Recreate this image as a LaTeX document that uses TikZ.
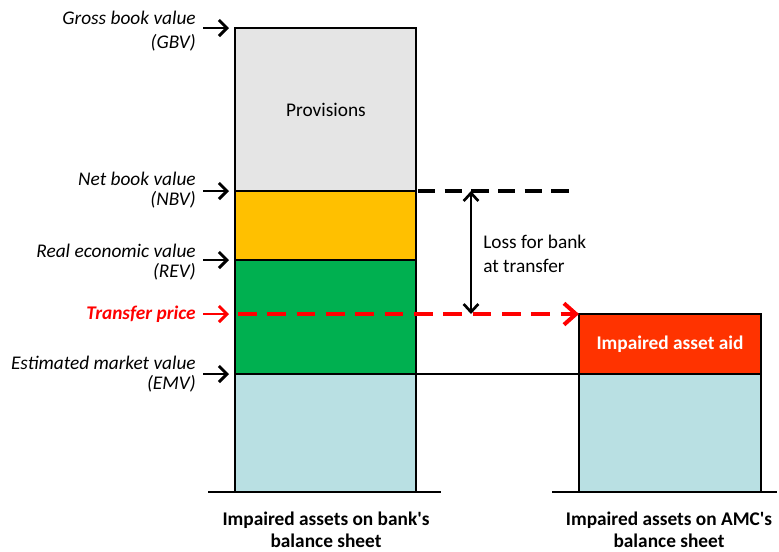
\documentclass[tikz,border=0pt]{standalone}
\usepackage{fontspec}
\setmainfont{Carlito}
\usetikzlibrary{positioning,calc,arrows.meta}
\definecolor{provcolor}{RGB}{229,229,229}
\definecolor{nbvcolor}{RGB}{255,192,0}
\definecolor{revcolor}{RGB}{0,176,80}
\definecolor{emvcolor}{RGB}{185,224,227}
\definecolor{aidcolor}{RGB}{255,51,0}
\definecolor{pricecolor}{RGB}{255,0,0}

\begin{document}
\begin{tikzpicture}[x=0.75pt,y=-0.75pt,
    seg/.style={draw=black,line width=2.2pt},
    ground/.style={draw=black,line width=2pt},
    lbl/.style={font=\fontsize{14.5}{15.5}\selectfont\itshape,align=right,anchor=east,inner sep=0pt},
    tip/.style={-{Straight Barb[length=6pt,width=12pt]},line width=2.2pt},
    sheetcaption/.style={font=\fontsize{14.5}{16.5}\selectfont\bfseries,align=center,inner sep=0pt}]
    \useasboundingbox (0,0) rectangle (779,551);

    % Bank's balance sheet
    \draw[seg,fill=provcolor] (235,28) rectangle (416,191);
    \draw[seg,fill=nbvcolor] (235,191) rectangle (416,260);
    \draw[seg,fill=revcolor] (235,260) rectangle (416,374);
    \draw[seg,fill=emvcolor] (235,374) rectangle (416,492);
    \draw[ground] (208,492) -- (441,492);
    \node[font=\fontsize{14.5}{15}\selectfont] (prov) at (326,110) {Provisions};

    % AMC's balance sheet
    \draw[seg,fill=aidcolor] (579,314) rectangle (761,374);
    \draw[seg,fill=emvcolor] (579,374) rectangle (761,492);
    \draw[ground] (552,492) -- (777,492);
    \node[white,font=\fontsize{14.5}{15}\selectfont\bfseries] (aid) at (670,344) {Impaired asset aid};

    % levels on the bar
    \coordinate (gbv) at (235,28);
    \coordinate (nbv) at (235,191);
    \coordinate (rev) at (235,260);
    \coordinate (tp) at (235,314);
    \coordinate (emv) at (235,374);
    \coordinate (nbvend) at (578,191);
    \coordinate (amc) at (579,314);
    \coordinate (amcemv) at (579,374);
    \coordinate (losstop) at (471,191);

    % value labels
    \foreach \lv/\yy/\txt in {gbv/31/{Gross book value\\[3pt](GBV)}, nbv/190/{Net book value\\(NBV)},
        rev/262/{Real economic value\\(REV)}, emv/374/{Estimated market value\\(EMV)}}{
        \node[lbl] (\lv txt) at (196,\yy) {\txt};
        \draw[tip] ($(\lv)+(-32,0)$) -- ($(\lv)+(-6,0)$);
    }
    \node[lbl,text=pricecolor,font=\fontsize{14.5}{15}\selectfont\bfseries\itshape] (tptxt) at (196,314) {Transfer price};
    \draw[tip,pricecolor] ($(tp)+(-32,0)$) -- ($(tp)+(-6,0)$);

    % transfer and loss
    \draw[line width=1.6pt] ($(emv)+(181,0)$) -- (amcemv);
    \draw[line width=3pt,dash pattern=on 13pt off 7pt] ($(nbv)+(183,0)$) -- (nbvend);
    \draw[pricecolor,line width=3pt,dash pattern=on 14pt off 8pt,
        -{Straight Barb[length=9pt,width=16pt,line width=3pt]}] ($(tp)+(3,0)$) -- (amc);
    \draw[{Straight Barb[length=6pt,width=11pt]}-{Straight Barb[length=6pt,width=11pt]},line width=2pt]
        (losstop) -- (losstop |- tp);
    \node[font=\fontsize{14.5}{18}\selectfont,align=left,anchor=west,inner sep=0pt] (loss) at (483,254) {Loss for bank\\at transfer};

    % captions
    \node[sheetcaption] (bankcap) at (326,530) {Impaired assets on bank\textquotesingle s\\balance sheet};
    \node[sheetcaption] (amccap) at (669,530) {Impaired assets on AMC\textquotesingle s\\balance sheet};
\end{tikzpicture}
\end{document}
